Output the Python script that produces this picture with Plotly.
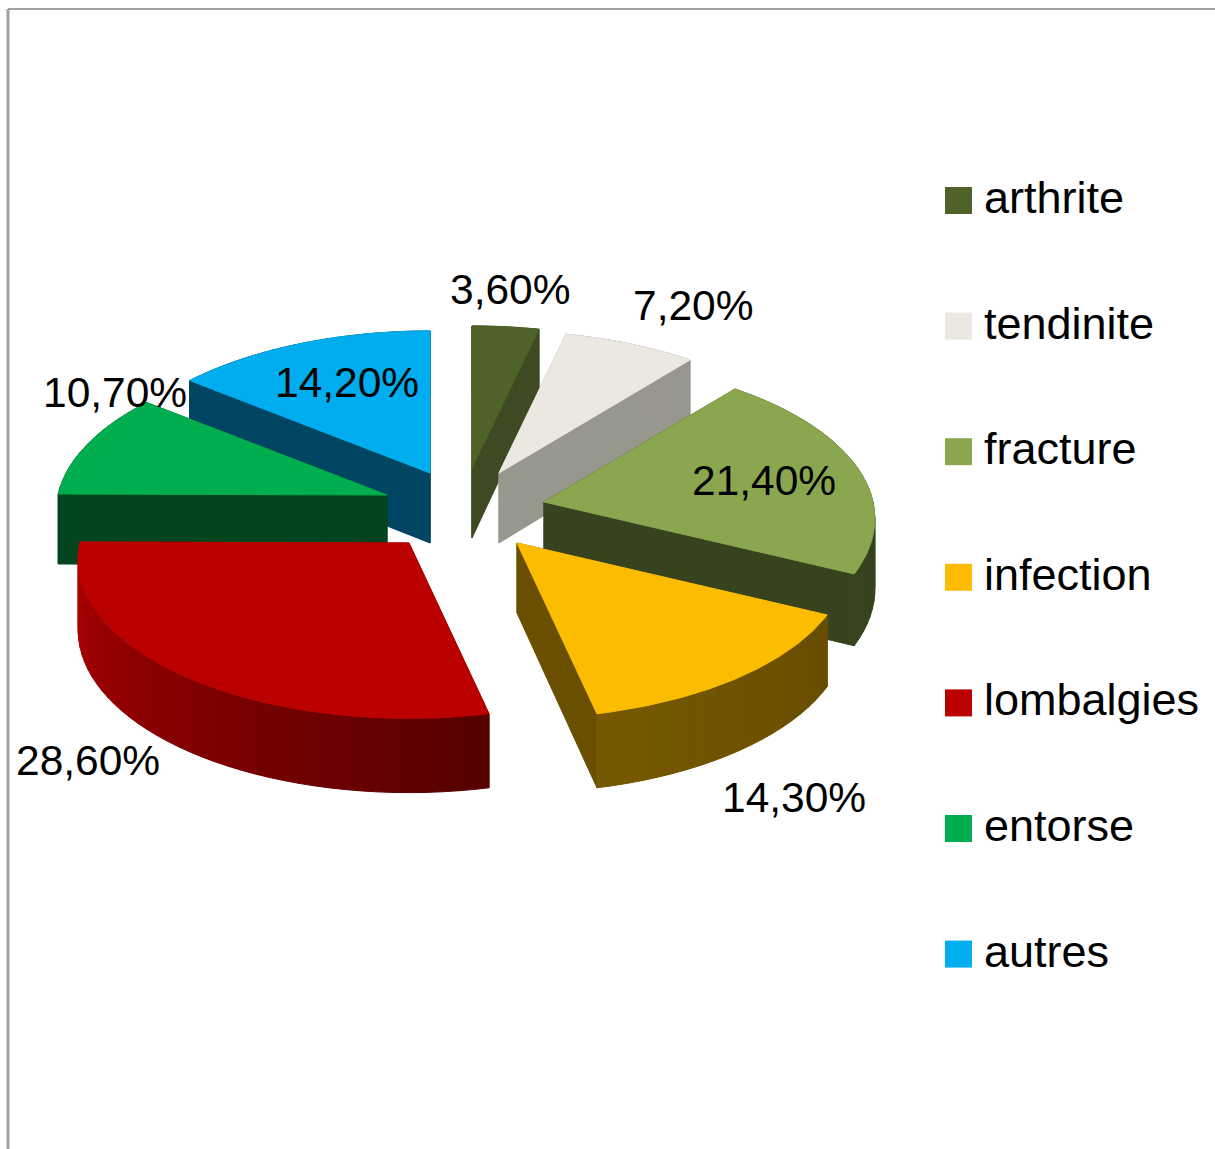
import numpy as np
import plotly.graph_objects as go

# ---- data ----
categories = ["arthrite", "tendinite", "fracture", "infection", "lombalgies", "entorse", "autres"]
values = [3.6, 7.2, 21.4, 14.3, 28.6, 10.7, 14.2]
value_labels = ["3,60%", "7,20%", "21,40%", "14,30%", "28,60%", "10,70%", "14,20%"]

# ---- styles ----
top_colors = ["#4f6228", "#eae8e0", "#8aa64f", "#fcbd00", "#bb0000", "#00ae4f", "#00aeef"]
face_colors = ["#3f4a22", "#98978e", "#37431f", "#6b4f00", "#7a0000", "#044520", "#004562"]
arc_from = ["#3f4a22", "#98978e", "#37431f", "#684d00", "#550000", "#044520", "#004562"]
arc_to = ["#3f4a22", "#98978e", "#37431f", "#765800", "#b00000", "#044520", "#004562"]

# ---- placement of the exploded slices, labels and key (page pixels) ----
apex_x = [472, 499, 544, 517, 409, 387, 430]
apex_y = [468, 473, 502, 543, 543, 495, 473]
label_x = [510, 693, 764, 794, 88, 115, 347]
label_y = [289, 305, 480, 797, 760, 392, 382]
paint_order = [0, 1, 6, 5, 2, 3, 4]
RX, RY, PERSP, DEPTH = 329.0, 157.0, 0.105, 70.0
LABEL_SIZE, LEGEND_SIZE = 42.5, 45
KEY_X, KEY_TEXT_X, KEY_Y0, KEY_STEP, KEY_MARKER = 958.5, 982, 200.5, 125.6, 27
FONT = "Liberation Sans"


def project(i, theta, r=1.0):
    """Perspective projection of a point of the tilted pie, theta clockwise from 12 o'clock."""
    u, v = r * np.sin(theta), r * np.cos(theta)
    s = 1.0 / (1.0 + PERSP * v)
    return apex_x[i] + RX * u * s, apex_y[i] - RY * v * s, DEPTH * (1 - 0.06 * v)


def hex_rgb(c):
    return np.array([int(c[k:k + 2], 16) for k in (1, 3, 5)], float)


def mix(a, b, t):
    m = hex_rgb(a) * (1 - t) + hex_rgb(b) * t
    return "rgb(%d,%d,%d)" % tuple(m.round())


def poly(fig, xs, ys, color):
    fig.add_trace(go.Scatter(x=xs, y=ys, mode="lines", fill="toself", fillcolor=color,
                             line=dict(color=color, width=1), hoverinfo="skip", showlegend=False))


edges = np.concatenate([[0], np.cumsum(values)]) / sum(values) * 2 * np.pi
fig = go.Figure()

for i in paint_order:
    a0, a1 = edges[i], edges[i + 1]
    # radial cut faces
    for a in (a0, a1):
        x, y, d = project(i, a)
        poly(fig, [apex_x[i], x, x, apex_x[i], apex_x[i]],
             [apex_y[i], y, y + d, apex_y[i] + DEPTH, apex_y[i]], face_colors[i])
    # outer wall, in shaded strips
    n = max(6, int((a1 - a0) / np.radians(2.5)))
    th = np.linspace(a0, a1, n + 1)
    for k in range(n):
        x0, y0, d0 = project(i, th[k])
        x1, y1, d1 = project(i, th[k + 1])
        poly(fig, [x0, x1, x1, x0, x0], [y0, y1, y1 + d1, y0 + d0, y0],
             mix(arc_from[i], arc_to[i], (k + 0.5) / n))
    # top surface
    th = np.linspace(a0, a1, 60)
    px, py, _ = project(i, th)
    poly(fig, np.r_[apex_x[i], px, apex_x[i]], np.r_[apex_y[i], py, apex_y[i]], top_colors[i])

# key: square swatches and names
key_y = [KEY_Y0 + KEY_STEP * i for i in range(len(categories))]
fig.add_trace(go.Scatter(x=[KEY_X] * len(categories), y=key_y, mode="markers", hoverinfo="skip",
                         showlegend=False, cliponaxis=False,
                         marker=dict(symbol="square", size=KEY_MARKER, color=top_colors, line=dict(width=0))))
for name, y in zip(categories, key_y):
    fig.add_annotation(x=KEY_TEXT_X, y=y - 3, text=name, showarrow=False, xanchor="left",
                       font=dict(family=FONT, size=LEGEND_SIZE, color="black"))

# data labels
for i, t in enumerate(value_labels):
    fig.add_annotation(x=label_x[i], y=label_y[i], text=t, showarrow=False,
                       font=dict(family=FONT, size=LABEL_SIZE, color="black"))

fig.update_layout(
    width=1215, height=1149, margin=dict(l=0, r=0, t=0, b=0),
    plot_bgcolor="white", paper_bgcolor="white", showlegend=False,
    xaxis=dict(range=[0, 1215], visible=False, fixedrange=True),
    yaxis=dict(range=[1149, 0], visible=False, fixedrange=True),
    font=dict(family=FONT, color="black"),
    shapes=[
        dict(type="line", x0=8, x1=8, y0=9, y1=1149, line=dict(color="#a0a0a0", width=3)),
        dict(type="line", x0=8, x1=1215, y0=9, y1=9, line=dict(color="#a0a0a0", width=2)),
    ],
)

fig.write_html("out.html", config={"displayModeBar": False},
               post_script="document.body.style.margin='0';")
